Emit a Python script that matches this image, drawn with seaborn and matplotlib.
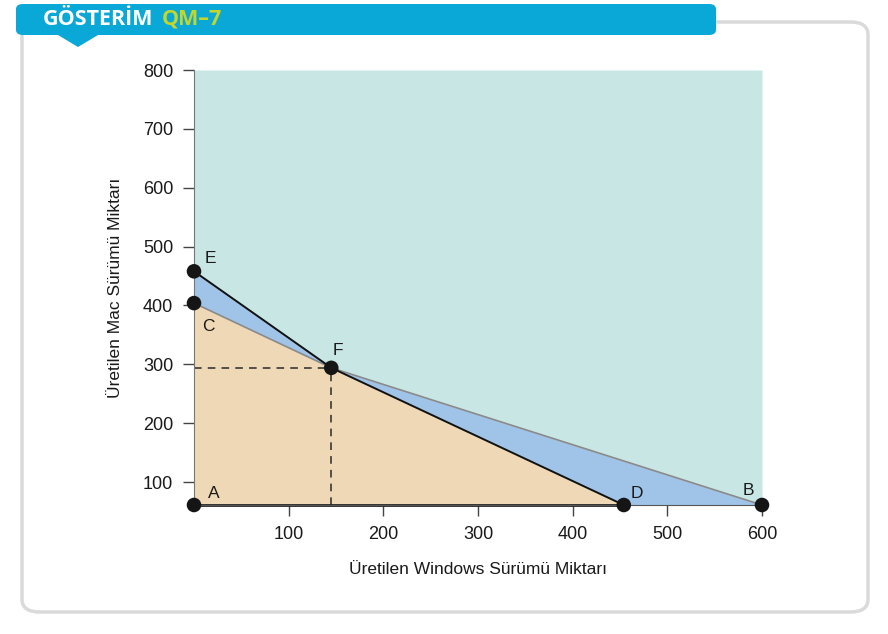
import numpy as np
import seaborn as sns
import matplotlib.pyplot as plt
from matplotlib.patches import FancyBboxPatch, Polygon

# constraint lines (windows, mac)
ed_windows = [0, 145, 454]
ed_mac = [458, 294, 61]
cb_windows = [0, 145, 600]
cb_mac = [404, 294, 61]

point_names = ['E', 'C', 'F', 'A', 'D', 'B']
point_windows = [0, 0, 145, 0, 454, 600]
point_mac = [458, 404, 294, 61, 61, 61]
label_offsets = [(8, 6), (6, -20), (1, 9), (10, 5), (5, 5), (-14, 7)]

x_ticks = [100, 200, 300, 400, 500, 600]
y_ticks = [100, 200, 300, 400, 500, 600, 700, 800]

sns.set_style('ticks')
plt.rcParams['font.family'] = ['Liberation Sans', 'DejaVu Sans']

fig = plt.figure(figsize=(8.88, 6.34), dpi=100)

# panel and header
panel = FancyBboxPatch((22 / 888, 1 - 612 / 634), 846 / 888, 590 / 634,
                       boxstyle='round,pad=0,rounding_size=0.02', transform=fig.transFigure,
                       facecolor='white', edgecolor='#dadada', linewidth=2.5, zorder=-3)
fig.patches.append(panel)
header = FancyBboxPatch((16 / 888, 1 - 35 / 634), 700 / 888, 31 / 634,
                        boxstyle='round,pad=0,rounding_size=0.008', transform=fig.transFigure,
                        facecolor='#0aa8d6', edgecolor='none', zorder=-2)
fig.patches.append(header)
fig.patches.append(Polygon([(58 / 888, 1 - 35 / 634), (98 / 888, 1 - 35 / 634), (78 / 888, 1 - 47 / 634)],
                           closed=True, transform=fig.transFigure, facecolor='#0aa8d6',
                           edgecolor='none', zorder=-2))
fig.text(43 / 888, 1 - 19.5 / 634, 'GÖSTERİM', color='white', fontsize=15.5, fontweight='bold',
         family=['Open Sans', 'DejaVu Sans'], va='center')
fig.text(162 / 888, 1 - 19.5 / 634, 'QM–7', color='#c5d62a', fontsize=15.5, fontweight='bold',
         family=['Open Sans', 'DejaVu Sans'], va='center')

ax = fig.add_axes([194 / 888, 1 - 505 / 634, 568 / 888, 435 / 634])
ax.set_facecolor('none')
ax.set_xlim(0, 600)
ax.set_ylim(61, 800)

grid = np.array(sorted(set(ed_windows + cb_windows)))
ed_line = np.interp(grid, ed_windows, ed_mac)
cb_line = np.interp(grid, cb_windows, cb_mac)
low = np.minimum(ed_line, cb_line)
high = np.maximum(ed_line, cb_line)
ax.fill_between(grid, high, 800, color='#c8e6e3', linewidth=0, zorder=1)
ax.fill_between(grid, low, high, color='#a0c4e8', linewidth=0, zorder=1)
ax.fill_between(grid, 61, low, color='#efd8b6', linewidth=0, zorder=1)

sns.lineplot(x=cb_windows, y=cb_mac, ax=ax, color='#8a8a8a', linewidth=1.2, zorder=3)
sns.lineplot(x=ed_windows, y=ed_mac, ax=ax, color='#111111', linewidth=1.4, zorder=3)
ax.plot([0, ed_windows[-1]], [61, 61], color='#222222', linewidth=2, zorder=3, clip_on=False)

fx, fy = point_windows[2], point_mac[2]
ax.plot([0, fx], [fy, fy], color='#2a2a2a', linestyle=(0, (5, 4)), linewidth=1.1, zorder=2)
ax.plot([fx, fx], [61, fy], color='#2a2a2a', linestyle=(0, (5, 4)), linewidth=1.1, zorder=2)

sns.scatterplot(x=point_windows, y=point_mac, ax=ax, color='#151515', s=110,
                edgecolor='none', zorder=5, clip_on=False)
for name, px, py, off in zip(point_names, point_windows, point_mac, label_offsets):
    ax.annotate(name, (px, py), xytext=off, textcoords='offset points',
                fontsize=12.5, color='#1a1a1a', zorder=6)

ax.set_xticks(x_ticks)
ax.set_yticks(y_ticks)
ax.tick_params(direction='out', length=8, width=1, pad=7, labelsize=13,
               color='#444444', labelcolor='#1a1a1a')
for side in ['top', 'right']:
    ax.spines[side].set_visible(False)
ax.spines['left'].set_color('#777777')
ax.spines['bottom'].set_color('#555555')
ax.spines['left'].set_zorder(4)
ax.spines['bottom'].set_zorder(4)

ax.set_xlabel('Üretilen Windows Sürümü Miktarı', fontsize=12.5, color='#1a1a1a', labelpad=14)
ax.set_ylabel('Üretilen Mac Sürümü Miktarı', fontsize=12.5, color='#1a1a1a', labelpad=14)

fig.savefig('out.png', dpi=100)
